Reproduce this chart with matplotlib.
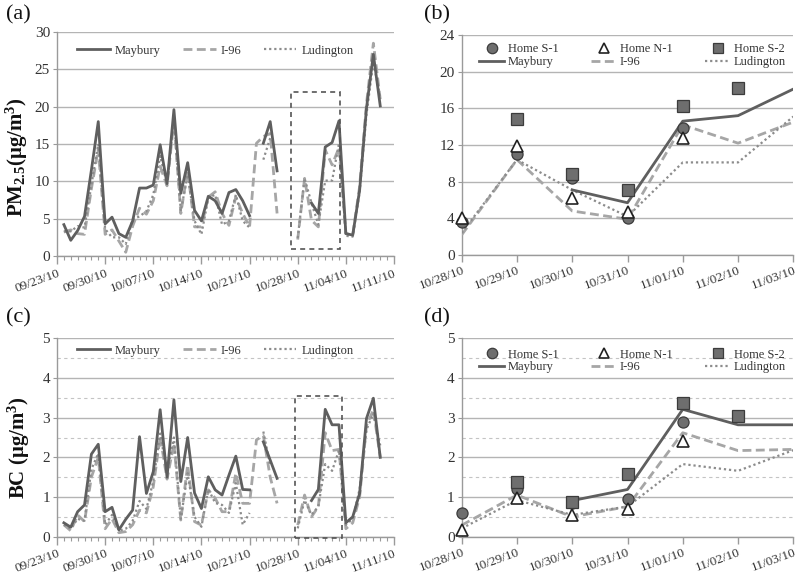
import numpy as np
import matplotlib
matplotlib.use('Agg')
import matplotlib.pyplot as plt
from matplotlib.patches import Rectangle
from matplotlib.lines import Line2D

plt.rcParams['font.family'] = ['Liberation Serif', 'DejaVu Serif']
plt.rcParams['mathtext.fontset'] = 'custom'
plt.rcParams['mathtext.rm'] = 'Liberation Serif'
plt.rcParams['mathtext.bf'] = 'Liberation Serif:bold'
plt.rcParams['mathtext.it'] = 'Liberation Serif:italic'

nan = np.nan

# ---------------- data ----------------
# day index: 0 = 09/23/10 ; series values for days 1..47
days = np.arange(1, 48)
week_labels = ['09/23/10', '09/30/10', '10/07/10', '10/14/10',
               '10/21/10', '10/28/10', '11/04/10', '11/11/10']

pm_maybury = [4.2, 2.1, 3.4, 5.3, 11.5, 18.0, 4.3, 5.2, 3.0, 2.5,
              4.7, 9.1, 9.1, 9.5, 14.9, 9.7, 19.6, 8.4, 12.5, 6.1,
              4.7, 8.0, 7.4, 5.7, 8.5, 8.9, 7.4, 5.4, nan, 15.1,
              18.0, 11.4, nan, nan, nan, nan, 7.1, 5.7, 14.6, 15.2,
              18.1, 3.0, 2.8, 8.8, 19.8, 27.0, 20.1]
pm_i96 = [3.2, 3.5, 3.0, 2.9, 9.0, 14.3, 2.9, 3.5, 2.0, 0.5,
          4.0, 6.4, 5.6, 7.4, 12.0, 9.4, 18.2, 5.7, 11.5, 3.9,
          3.9, 7.9, 8.6, 5.7, 4.1, 7.9, 5.7, 3.9, 15.1, 16.0,
          16.4, 5.7, nan, nan, 2.2, 10.4, 4.8, 3.9, 14.2, 12.2,
          14.5, 3.0, 2.8, 9.3, 20.4, 28.5, 21.0]
pm_ludington = [3.3, 3.3, 4.0, 3.8, 9.5, 15.0, 3.6, 2.5, 2.5, 1.6,
                4.9, 5.3, 6.0, 8.2, 13.4, 9.6, 18.5, 6.0, 10.9, 4.7,
                2.9, 7.8, 8.2, 4.2, 4.7, 8.2, 4.7, 3.8, nan, 12.9,
                15.8, nan, nan, nan, 2.4, 10.4, 7.1, 4.2, 10.1, 10.1,
                15.1, 2.7, 2.6, 8.5, 19.0, 26.0, 21.2]

bc_maybury = [0.35, 0.24, 0.63, 0.80, 2.08, 2.33, 0.63, 0.74, 0.17, 0.44,
              0.67, 2.52, 1.09, 1.64, 3.20, 1.50, 3.45, 1.39, 2.50, 1.10,
              0.71, 1.51, 1.18, 1.05, 1.55, 2.03, 1.19, 1.18, nan, 2.39,
              1.93, 1.47, nan, nan, nan, nan, 0.91, 1.19, 3.21, 2.82,
              2.82, 0.35, 0.50, 1.09, 2.98, 3.49, 2.00]
bc_i96 = [0.30, 0.15, 0.55, 0.38, 1.50, 2.00, 0.20, 0.45, 0.10, 0.13,
          0.30, 0.67, 0.60, 1.26, 2.52, 1.45, 2.35, 0.42, 1.81, 0.38,
          0.29, 1.18, 0.97, 0.63, 0.63, 1.60, 0.84, 0.84, 2.44, 2.55,
          1.50, 0.84, nan, nan, 0.29, 1.05, 0.50, 0.76, 2.62, 2.17,
          2.20, 0.20, 0.35, 1.00, 2.80, 3.20, 2.00]
bc_ludington = [0.30, 0.20, 0.45, 0.40, 1.70, 2.10, 0.30, 0.55, 0.15, 0.20,
                0.40, 0.90, 0.70, 1.40, 2.60, 1.60, 2.50, 0.45, 1.60, 0.50,
                0.25, 1.20, 0.85, 0.80, 0.60, 1.35, 0.30, 0.60, nan, 2.65,
                1.80, nan, nan, nan, 0.21, 0.92, 0.55, 0.76, 1.83, 1.66,
                2.18, 0.30, 0.45, 1.20, 2.70, 3.10, 2.30]

# zoom window 10/28/10 .. 11/03/10
zoom_labels = ['10/28/10', '10/29/10', '10/30/10', '10/31/10',
               '11/01/10', '11/02/10', '11/03/10']
zoom_first_day = 35

pm_home_s1 = [3.6, 11.0, 8.4, 4.0, 13.9, nan, nan]
pm_home_n1 = [4.0, 11.9, 6.2, 4.7, 12.8, nan, nan]
pm_home_s2 = [nan, 14.8, 8.8, 7.1, 16.3, 18.2, nan]
bc_home_s1 = [0.59, 1.19, 0.86, 0.95, 2.90, nan, nan]
bc_home_n1 = [0.17, 0.97, 0.55, 0.71, 2.40, nan, nan]
bc_home_s2 = [nan, 1.37, 0.88, 1.58, 3.38, 3.03, nan]

# ---------------- styles ----------------
C_MAY = '#5f5f5f'
C_I96 = '#a6a6a6'
C_LUD = '#8c8c8c'
C_GRID = '#b4b4b4'
C_SPINE = '#9a9a9a'
C_TXT = '#333333'
FS_X = 9.5
FS_Y = 11
FS_LEG = 9
ROT = 20

st_may = dict(color=C_MAY, lw=2.0, ls='-')
st_i96 = dict(color=C_I96, lw=2.0, ls=(0, (3.2, 1.6)))
st_lud = dict(color=C_LUD, lw=1.6, ls=(0, (1, 1.3)))

fig = plt.figure(figsize=(8, 5.79), dpi=100)


def style_axes(ax, ymax, ystep, dashed_half=False):
    for s in ['top', 'right']:
        ax.spines[s].set_visible(False)
    for s in ['left', 'bottom']:
        ax.spines[s].set_color(C_SPINE)
        ax.spines[s].set_linewidth(1.0)
    ax.set_ylim(0, ymax)
    ax.set_yticks(np.arange(0, ymax + 0.001, ystep))
    ax.yaxis.grid(True, color=C_GRID, lw=1.0)
    ax.set_axisbelow(True)
    if dashed_half:
        for v in np.arange(ystep / 2, ymax, ystep):
            ax.axhline(v, color='#c4c4c4', lw=0.8, ls=(0, (3, 3)), zorder=0.5)
    ax.tick_params(axis='y', length=3, color=C_SPINE, labelsize=FS_Y,
                   labelcolor=C_TXT, pad=2)
    ax.tick_params(axis='x', labelsize=FS_X, labelcolor=C_TXT, color=C_SPINE,
                   pad=2)


def long_panel(ax, may, i96, lud, ymax, ystep, dashed_half, box):
    x = np.array(days, dtype=float)
    ax.plot(x, i96, zorder=3, **st_i96)
    ax.plot(x, lud, zorder=3, **st_lud)
    ax.plot(x, may, zorder=4, **st_may)
    ax.set_xlim(0, 49)
    ax.set_xticks(np.arange(0, 50, 7))
    ax.set_xticklabels(week_labels, rotation=ROT, ha='right',
                       rotation_mode='anchor')
    ax.set_xticks(np.arange(0, 50, 1), minor=True)
    ax.tick_params(axis='x', which='major', length=6, width=1.0)
    ax.tick_params(axis='x', which='minor', length=3, width=0.8,
                   color=C_SPINE)
    style_axes(ax, ymax, ystep, dashed_half)
    ax.add_patch(Rectangle((box[0], box[2]), box[1] - box[0], box[3] - box[2],
                           fill=False, ec='#555555', lw=1.2,
                           ls=(0, (3, 2.5)), zorder=5, clip_on=False))


def zoom_panel(ax, may, i96, lud, s1, n1, s2, ymax, ystep, dashed_half):
    xz = np.arange(len(zoom_labels))
    sl = slice(zoom_first_day - 1, zoom_first_day - 1 + len(zoom_labels))
    ax.plot(xz, np.array(i96)[sl], zorder=3, **st_i96)
    ax.plot(xz, np.array(lud)[sl], zorder=3, **st_lud)
    ax.plot(xz, np.array(may)[sl], zorder=4, **st_may)
    ax.plot(xz, s1, ls='none', marker='o', ms=8, mfc='#6e6e6e',
            mec='#3c3c3c', mew=0.9, zorder=6, clip_on=False)
    ax.plot(xz, n1, ls='none', marker='^', ms=8, mfc='white',
            mec='#222222', mew=1.2, zorder=6, clip_on=False)
    ax.plot(xz, s2, ls='none', marker='s', ms=8, mfc='#6e6e6e',
            mec='#3c3c3c', mew=0.9, zorder=6, clip_on=False)
    ax.set_xlim(0, len(zoom_labels) - 1)
    ax.set_xticks(xz)
    ax.set_xticklabels(zoom_labels, rotation=ROT, ha='right',
                       rotation_mode='anchor')
    ax.tick_params(axis='x', which='major', length=5, width=1.0)
    style_axes(ax, ymax, ystep, dashed_half)


def long_legend(ax, y):
    h = [Line2D([], [], **st_may), Line2D([], [], **st_i96),
         Line2D([], [], **st_lud)]
    ax.legend(h, ['Maybury', 'I-96', 'Ludington'], loc='center',
              bbox_to_anchor=(0.47, y), ncol=3, frameon=False,
              fontsize=FS_LEG, handlelength=2.6, columnspacing=1.8,
              handletextpad=0.4, labelcolor=C_TXT)


def zoom_legend(ax, y):
    h_s1 = Line2D([], [], ls='none', marker='o', ms=7.5, mfc='#6e6e6e',
                  mec='#3c3c3c', mew=0.9)
    h_n1 = Line2D([], [], ls='none', marker='^', ms=7.5, mfc='white',
                  mec='#222222', mew=1.2)
    h_s2 = Line2D([], [], ls='none', marker='s', ms=7.5, mfc='#6e6e6e',
                  mec='#3c3c3c', mew=0.9)
    h = [h_s1, Line2D([], [], **st_may), h_n1, Line2D([], [], **st_i96),
         h_s2, Line2D([], [], **st_lud)]
    lab = ['Home S-1', 'Maybury', 'Home N-1', 'I-96', 'Home S-2', 'Ludington']
    ax.legend(h, lab, loc='center', bbox_to_anchor=(0.515, y), ncol=3,
              frameon=False, fontsize=FS_LEG, handlelength=2.0,
              columnspacing=2.6, handletextpad=0.3, labelspacing=0.05,
              labelcolor=C_TXT)


# panel (a)
axA = fig.add_axes([57 / 800, 1 - 256 / 579, 337 / 800, 224 / 579])
long_panel(axA, pm_maybury, pm_i96, pm_ludington, 30, 5, False,
           (34.0, 41.1, 1.0, 22.0))
long_legend(axA, 0.917)

# panel (b)
axB = fig.add_axes([461.7 / 800, 1 - 255 / 579, 331.6 / 800, 220 / 579])
zoom_panel(axB, pm_maybury, pm_i96, pm_ludington,
           pm_home_s1, pm_home_n1, pm_home_s2, 24, 4, False)
zoom_legend(axB, 0.906)

# panel (c)
axC = fig.add_axes([57 / 800, 1 - 536.7 / 579, 337 / 800, 198.4 / 579])
long_panel(axC, bc_maybury, bc_i96, bc_ludington, 5, 1, True,
           (34.6, 41.5, -0.04, 3.55))
long_legend(axC, 0.9375)

# panel (d)
axD = fig.add_axes([461.7 / 800, 1 - 536.7 / 579, 331.6 / 800, 198.4 / 579])
zoom_panel(axD, bc_maybury, bc_i96, bc_ludington,
           bc_home_s1, bc_home_n1, bc_home_s2, 5, 1, True)
zoom_legend(axD, 0.886)

# y labels
fig.text(17 / 800, 1 - 157 / 579,
         r'PM$_{\mathbf{2.5}}$(μg/m$^{\mathbf{3}}$)', rotation=90,
         ha='center', va='center', fontsize=15, fontweight='bold',
         color='#111111')
fig.text(19 / 800, 1 - 448 / 579, r'BC (μg/m$^{\mathbf{3}}$)', rotation=90,
         ha='center', va='center', fontsize=15, fontweight='bold',
         color='#111111')

# panel letters
for lab, (px, py) in {'(a)': (6, 15), '(b)': (424, 15),
                      '(c)': (6, 318), '(d)': (424, 318)}.items():
    fig.text(px / 800, 1 - py / 579, lab, ha='left', va='center',
             fontsize=16, color='#111111')

fig.savefig('out.png', dpi=100)
